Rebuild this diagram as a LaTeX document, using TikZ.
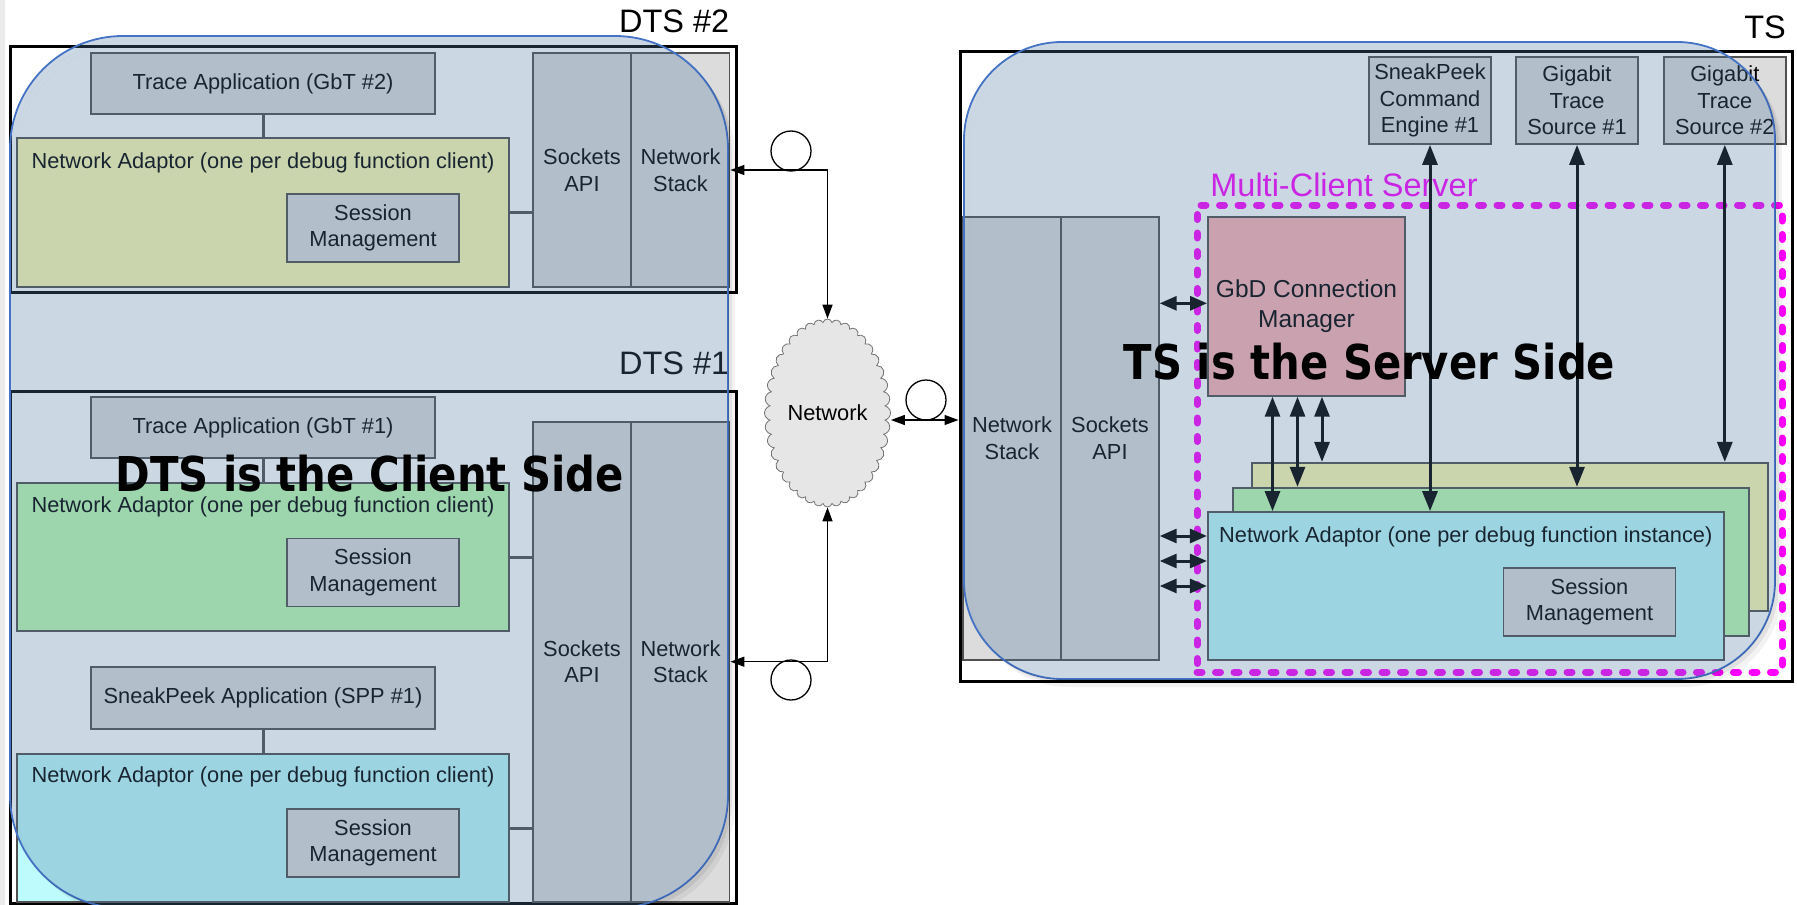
\documentclass[tikz,border=0pt]{standalone}
\usepackage{fontspec}
\setmainfont{Liberation Sans}
\newfontfamily\sidefont{DejaVu Sans}[FakeStretch=0.87]
\usepackage{tikz}
\usetikzlibrary{arrows.meta,positioning,shapes.symbols}
\definecolor{boxgray}{RGB}{220,220,220}
\definecolor{boxline}{RGB}{80,80,80}
\definecolor{adaptorolive}{RGB}{255,252,177}
\definecolor{adaptorgreen}{RGB}{190,252,177}
\definecolor{adaptorcyan}{RGB}{190,251,253}
\definecolor{managerpink}{RGB}{255,179,180}
\definecolor{veilfill}{RGB}{82,125,165}
\definecolor{veilline}{RGB}{68,114,196}
\definecolor{cloudgray}{RGB}{230,230,230}
\definecolor{servermagenta}{RGB}{255,0,255}

\begin{document}
\begin{tikzpicture}[
    x=1pt, y=-1pt,
    outer/.style={rectangle, draw=black, line width=3pt, inner sep=0pt},
    box/.style={rectangle, draw=boxline, line width=1.8pt, fill=boxgray, inner sep=0pt, align=center, font=\fontsize{21.8}{26.7}\selectfont},
    appbox/.style={box, minimum width=344pt, minimum height=61pt},
    sessbox/.style={box, minimum width=172pt, minimum height=68pt},
    srcbox/.style={box, minimum width=122pt, minimum height=87pt},
    colbox/.style={box, minimum width=98pt},
    adaptor/.style={box, minimum width=492pt, minimum height=148pt},
    frame/.style={box, minimum width=516pt, minimum height=148pt},
    lab/.style={font=\fontsize{21.8}{26.7}\selectfont, inner sep=0pt},
    tag/.style={font=\fontsize{32.5}{36}\selectfont, inner sep=0pt, anchor=east},
    bond/.style={line width=3pt, draw=boxline},
    netlink/.style={{Triangle[length=14pt,width=10pt]}-{Triangle[length=14pt,width=10pt]}, line width=1.4pt},
    bus/.style={{Triangle[length=20pt,width=15pt]}-{Triangle[length=20pt,width=15pt]}, line width=3pt},
    port/.style={{Triangle[length=17pt,width=14pt]}-{Triangle[length=17pt,width=14pt]}, line width=3pt},
    ring/.style={circle, draw=black, line width=1.3pt, minimum size=40pt, inner sep=0pt},
    server/.style={rectangle, draw=servermagenta, line width=7pt, line cap=round, dash pattern=on 5pt off 13.5pt, inner sep=0pt},
    veil/.style={rectangle, rounded corners=#1, draw=veilline, line width=1.8pt, fill=veilfill, fill opacity=0.3, draw opacity=1, inner sep=0pt},
    side/.style={font=\sidefont\bfseries\fontsize{48}{52}\selectfont, inner sep=0pt}
]
\useasboundingbox (0,0) rectangle (1797,905);
\fill[black!8] (0,0) rectangle (4.5,905);

% ============ DTS #2 ============
\node[tag] (tag-dts2) at (729.5,21.7) {DTS \#2};
\node[outer, minimum width=726pt, minimum height=246pt] (dts2) at (373,169.7) {};
\node[appbox] (trace2) at (263,83.5) {Trace Application (GbT \#2)};
\node[adaptor, fill=adaptorolive, minimum height=149pt] (adaptor2) at (263,212.5) {};
\node[lab] (adaptor2-lab) at (263,162.7) {Network Adaptor (one per debug function client)};
\node[sessbox] (sess2) at (373,228) {Session\\Management};
\node[colbox, minimum height=234pt] (sockets2) at (582,170) {Sockets\\API};
\node[colbox, minimum height=234pt] (stack2) at (680.5,170) {Network\\Stack};

\draw[bond] (trace2) -- (adaptor2);
\draw[bond] (adaptor2.east) -- (adaptor2.east -| sockets2.west);

% ============ DTS #1 ============
\node[tag] (tag-dts1) at (729.5,363) {DTS \#1};
\node[outer, minimum width=726pt, minimum height=512pt] (dts1) at (373,647) {};
\node[appbox] (trace1) at (263,427.5) {Trace Application (GbT \#1)};
\node[adaptor, fill=adaptorgreen] (adaptor1a) at (263,557) {};
\node[lab] (adaptor1a-lab) at (263,506.7) {Network Adaptor (one per debug function client)};
\node[sessbox] (sess1a) at (373,572.5) {Session\\Management};
\node[appbox, minimum height=62pt] (snap1) at (263,698) {SneakPeek Application (SPP \#1)};
\node[adaptor, fill=adaptorcyan] (adaptor1b) at (263,828) {};
\node[lab] (adaptor1b-lab) at (263,777) {Network Adaptor (one per debug function client)};
\node[sessbox] (sess1b) at (373,843) {Session\\Management};
\node[colbox, minimum height=480pt] (sockets1) at (582,661.7) {Sockets\\API};
\node[colbox, minimum height=480pt] (stack1) at (680.5,661.7) {Network\\Stack};

\draw[bond] (trace1) -- (adaptor1a);
\draw[bond] (snap1) -- (adaptor1b);
\draw[bond] (adaptor1a.east) -- (adaptor1a.east -| sockets1.west);
\draw[bond] (adaptor1b.east) -- (adaptor1b.east -| sockets1.west);

% ============ Network ============
\node[cloud, cloud puffs=40, cloud puff arc=150, cloud ignores aspect, draw=boxline!80, line width=0.8pt, fill=cloudgray, minimum width=126pt, minimum height=188pt, inner sep=0pt, font=\fontsize{21.8}{26.7}\selectfont] (network) at (827.5,413) {Network};
\node[ring] (ring2) at (791,151) {};
\node[ring] (ring1) at (791,680) {};
\node[ring] (ring-ts) at (926,400) {};

\draw[netlink] (network.north) |- (stack2.east);
\draw[netlink] (network.south) |- (stack1.east);

% ============ TS ============
\node[tag] (tag-ts) at (1786,27) {TS};
\node[outer, minimum width=832pt, minimum height=630.7pt] (ts) at (1376,366.4) {};
\node[srcbox] (engine) at (1430,100.5) {SneakPeek\\Command\\Engine \#1};
\node[srcbox] (source1) at (1577,100.5) {Gigabit\\Trace\\Source \#1};
\node[srcbox] (source2) at (1724.8,100.5) {Gigabit\\Trace\\Source \#2};
\node[colbox, minimum height=443.3pt] (stack-ts) at (1012,438.3) {Network\\Stack};
\node[colbox, minimum width=97.6pt, minimum height=443.3pt] (sockets-ts) at (1110,438.3) {Sockets\\API};
\node[box, fill=managerpink, minimum width=197pt, minimum height=179pt, font=\fontsize{24.5}{30}\selectfont] (manager) at (1306.5,306.3) {GbD Connection\\Manager};
\node[frame, fill=adaptorolive] (frame3) at (1509.8,536.8) {};
\node[frame, fill=adaptorgreen] (frame2) at (1491,561.7) {};
\node[frame, fill=adaptorcyan] (frame1) at (1465.8,586) {};
\node[lab] (frame1-lab) at (1465.8,536.7) {Network Adaptor (one per debug function instance)};
\node[sessbox] (sess-ts) at (1589.5,602) {Session\\Management};

\node[font=\fontsize{32.5}{36}\selectfont, text=servermagenta, inner sep=0pt] (server-lab) at (1344,185) {Multi-Client Server};
\node[server, minimum width=585pt, minimum height=467pt] (server) at (1489.5,438.5) {};

\coordinate (mgr-a) at ([xshift=-34pt]manager.south);
\coordinate (mgr-b) at ([xshift=-9pt]manager.south);
\coordinate (mgr-c) at ([xshift=15.5pt]manager.south);
\coordinate (mgr-w) at ([yshift=3pt]manager.west);
\coordinate (frame-a) at ([yshift=50pt]frame1.west);
\coordinate (frame-b) at ([yshift=25pt]frame1.west);
\coordinate (frame-c) at (frame1.west);

\draw[bus] (mgr-a) -- (mgr-a |- frame1.north);
\draw[bus] (mgr-b) -- (mgr-b |- frame2.north);
\draw[bus] (mgr-c) -- (mgr-c |- frame3.north);
\draw[bus] (engine.south) -- (engine.south |- frame1.north);
\draw[bus] (source1.south) -- (source1.south |- frame2.north);
\draw[bus] (source2.south) -- (source2.south |- frame3.north);
\draw[port] (mgr-w -| sockets-ts.east) -- (mgr-w);
\draw[port] (frame-a -| sockets-ts.east) -- (frame-a);
\draw[port] (frame-b -| sockets-ts.east) -- (frame-b);
\draw[port] (frame-c -| sockets-ts.east) -- (frame-c);
\draw[netlink] (network.east |- 0,420) -- (ts.west |- 0,420);

% ============ Client and server side ============
\node[veil=113pt, minimum width=718pt, minimum height=872pt] (client-veil) at (369,472) {};
\node[veil=98pt, minimum width=811pt, minimum height=637pt] (server-veil) at (1369.5,360.5) {};

% soft edge below right of each veil
\begin{scope}
\clip[rounded corners=113pt] (14,40) rectangle (732,912);
\fill[black, opacity=0.07, even odd rule, rounded corners=113pt] (14,40) rectangle (732,912) (10,36) rectangle (728,908);
\end{scope}
\begin{scope}
\clip[rounded corners=113pt] (17,44) rectangle (735,916);
\fill[black, opacity=0.05, even odd rule, rounded corners=113pt] (17,44) rectangle (735,916) (10,36) rectangle (728,908);
\end{scope}
\begin{scope}
\clip[rounded corners=98pt] (968,46) rectangle (1779,683);
\fill[black, opacity=0.07, even odd rule, rounded corners=98pt] (968,46) rectangle (1779,683) (964,42) rectangle (1775,679);
\end{scope}
\begin{scope}
\clip[rounded corners=98pt] (971,50) rectangle (1782,687);
\fill[black, opacity=0.05, even odd rule, rounded corners=98pt] (971,50) rectangle (1782,687) (964,42) rectangle (1775,679);
\end{scope}

\node[side] (client-side) at (369.7,474) {DTS is the Client Side};
\node[side] (server-side) at (1369.5,362) {TS is the Server Side};

\end{tikzpicture}
\end{document}
